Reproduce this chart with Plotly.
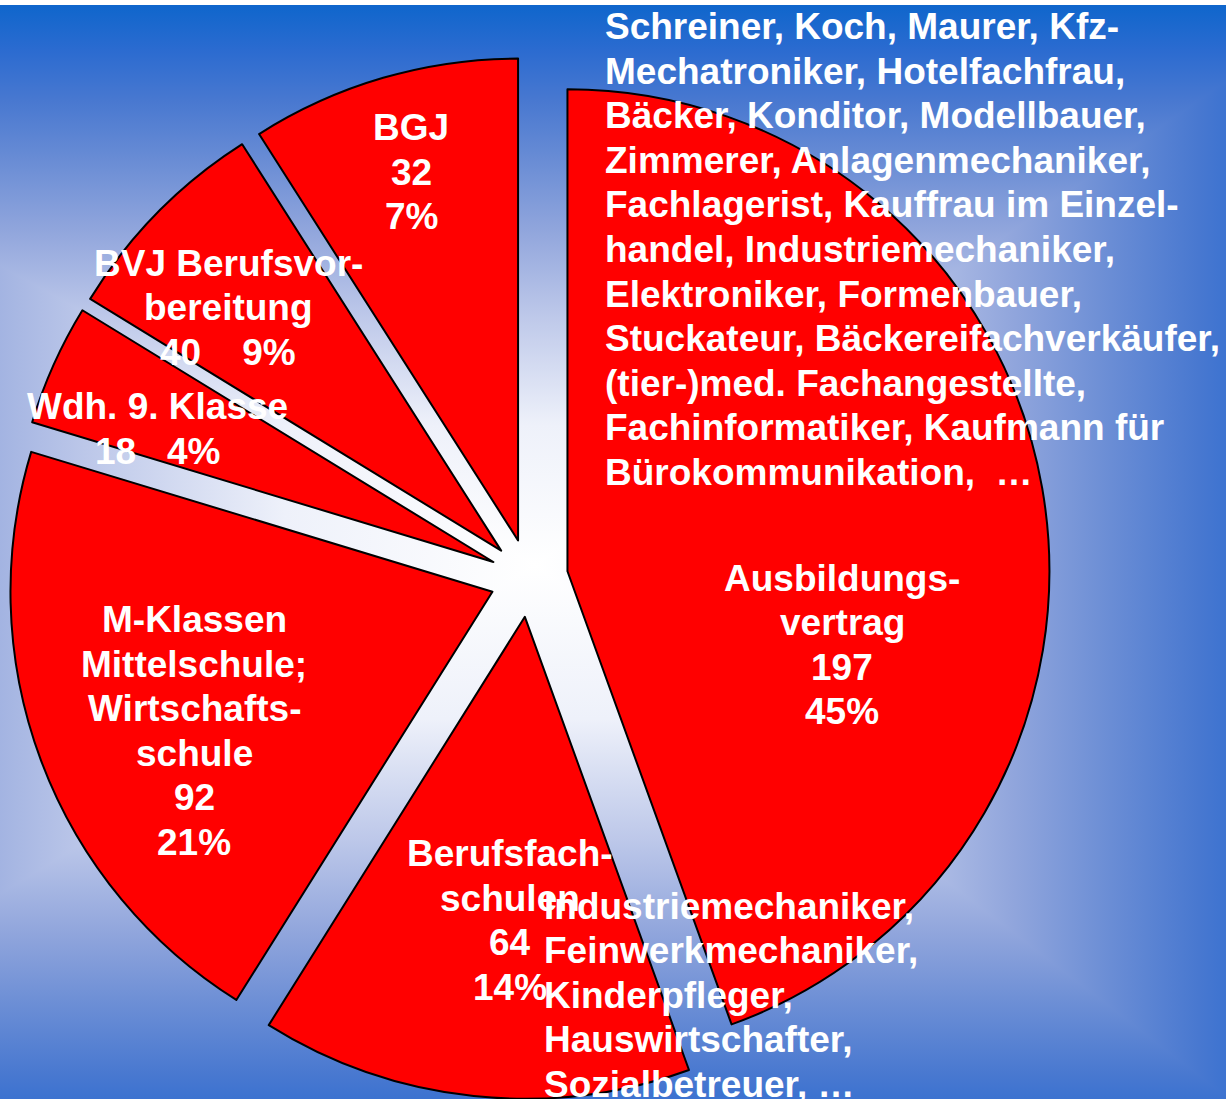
import base64
import plotly.graph_objects as go

# ---------------- data (clockwise slice order as drawn) ----------------
categories = ["Ausbildungsvertrag", "Berufsfachschulen", "M-Klassen Mittelschule; Wirtschaftsschule",
              "Wdh. 9. Klasse", "BGJ", "BVJ Berufsvorbereitung"]
label_lines = [["Ausbildungs-", "vertrag"], ["Berufsfach-", "schulen"],
               ["M-Klassen", "Mittelschule;", "Wirtschafts-", "schule"],
               ["Wdh. 9. Klasse"], ["BGJ"], ["BVJ Berufsvor-", "bereitung"]]
values = [197, 64, 92, 18, 32, 40]
percents = [45, 14, 21, 4, 7, 9]

ausbildung_berufe = [
    "Schreiner, Koch, Maurer, Kfz-",
    "Mechatroniker, Hotelfachfrau,",
    "Bäcker, Konditor, Modellbauer,",
    "Zimmerer, Anlagenmechaniker,",
    "Fachlagerist, Kauffrau im Einzel-",
    "handel, Industriemechaniker,",
    "Elektroniker, Formenbauer,",
    "Stuckateur, Bäckereifachverkäufer,",
    "(tier-)med. Fachangestellte,",
    "Fachinformatiker, Kaufmann für",
    "Bürokommunikation,  …",
]
berufsfach_berufe = [
    "Industriemechaniker,",
    "Feinwerkmechaniker,",
    "Kinderpfleger,",
    "Hauswirtschafter,",
    "Sozialbetreuer, …",
]

# ---------------- styling / layout ----------------
W, H = 1226, 1099
FONT = "Liberation Sans, Arial, sans-serif"
FS = 37
PITCH = 44.6
# per label block: (center x px, first line center y px, spaces between value and % if inline, else None)
label_style = [(842, 578, None), (510, 853.5, None), (194, 619.5, None),
               (157, 406.5, 3), (411, 127.5, None), (228, 263, 4)]
list_style = [(603, 26.5), (542, 906)]

def px(x):
    return x / W

def py(y):
    return 1 - y / H

# background: rectangular "from center" gradient built from 4 triangles
gcx, gcy = 535, 565
ext_l, ext_r, ext_t, ext_b = 1000, 800, 560, 615
stops = [(0.0, "#ffffff"), (0.25, "#eef1fa"), (0.45, "#bcc7e9"), (0.6, "#90a5dc"),
         (0.72, "#6a8dd5"), (0.83, "#4878d0"), (0.92, "#2b6bd0"), (1.0, "#0f66cc")]
stop_xml = "".join(f"<stop offset='{o}' stop-color='{c}'/>" for o, c in stops)
L, R, T, B = gcx - ext_l, gcx + ext_r, gcy - ext_t, gcy + ext_b
svg = (
    f"<svg xmlns='http://www.w3.org/2000/svg' width='{W}' height='{H}' viewBox='0 0 {W} {H}'>"
    "<defs>"
    f"<linearGradient id='gt' gradientUnits='userSpaceOnUse' x1='{gcx}' y1='{gcy}' x2='{gcx}' y2='{T}'>{stop_xml}</linearGradient>"
    f"<linearGradient id='gb' gradientUnits='userSpaceOnUse' x1='{gcx}' y1='{gcy}' x2='{gcx}' y2='{B}'>{stop_xml}</linearGradient>"
    f"<linearGradient id='gl' gradientUnits='userSpaceOnUse' x1='{gcx}' y1='{gcy}' x2='{L}' y2='{gcy}'>{stop_xml}</linearGradient>"
    f"<linearGradient id='gr' gradientUnits='userSpaceOnUse' x1='{gcx}' y1='{gcy}' x2='{R}' y2='{gcy}'>{stop_xml}</linearGradient>"
    "</defs>"
    f"<rect x='0' y='0' width='{W}' height='{H}' fill='#8fa5dc'/>"
    "<g shape-rendering='crispEdges'>"
    f"<polygon points='{gcx},{gcy} {L},{T} {R},{T}' fill='url(#gt)'/>"
    f"<polygon points='{gcx},{gcy} {R},{T} {R},{B}' fill='url(#gr)'/>"
    f"<polygon points='{gcx},{gcy} {R},{B} {L},{B}' fill='url(#gb)'/>"
    f"<polygon points='{gcx},{gcy} {L},{B} {L},{T}' fill='url(#gl)'/>"
    "</g>"
    f"<rect x='0' y='0' width='{W}' height='5' fill='#ffffff'/>"
    "</svg>"
)
bg_src = "data:image/svg+xml;base64," + base64.b64encode(svg.encode("utf-8")).decode("ascii")

fig = go.Figure(go.Pie(
    labels=categories,
    values=values,
    sort=False,
    direction="clockwise",
    rotation=0,
    pull=0.081,
    marker=dict(colors=["#FF0000"] * len(values), line=dict(color="#000000", width=2)),
    textinfo="none",
    hoverinfo="label+value",
    showlegend=False,
    domain=dict(x=[px(7), px(1051)], y=[0, py(57)]),
))

annotations = []

def add_line(text, x, y, anchor):
    annotations.append(dict(
        text=f"<b>{text}</b>", x=px(x), y=py(y), xref="paper", yref="paper",
        xanchor=anchor, yanchor="middle", showarrow=False,
        font=dict(family=FONT, size=FS, color="#ffffff"),
    ))

for lines, val, pct, (cx, y0, inline) in zip(label_lines, values, percents, label_style):
    block = list(lines)
    if inline is None:
        block += [str(val), f"{pct}%"]
    else:
        block += [f"{val}" + "\u00a0" * inline + f"{pct}%"]
    for i, t in enumerate(block):
        add_line(t, cx, y0 + i * PITCH, "center")

for lst, (lx, ly0) in zip([ausbildung_berufe, berufsfach_berufe], list_style):
    for i, t in enumerate(lst):
        add_line(t.replace("  ", "\u00a0\u00a0"), lx, ly0 + i * PITCH, "left")

fig.update_layout(
    width=W, height=H,
    margin=dict(l=0, r=0, t=0, b=0),
    paper_bgcolor="#ffffff",
    plot_bgcolor="rgba(0,0,0,0)",
    images=[dict(source=bg_src, xref="paper", yref="paper", x=0, y=1, sizex=1, sizey=1,
                 xanchor="left", yanchor="top", sizing="stretch", layer="below")],
    annotations=annotations,
)

fig.write_html("out.html", config={"displayModeBar": False},
               post_script="document.body.style.margin='0';document.body.style.overflow='hidden';")
